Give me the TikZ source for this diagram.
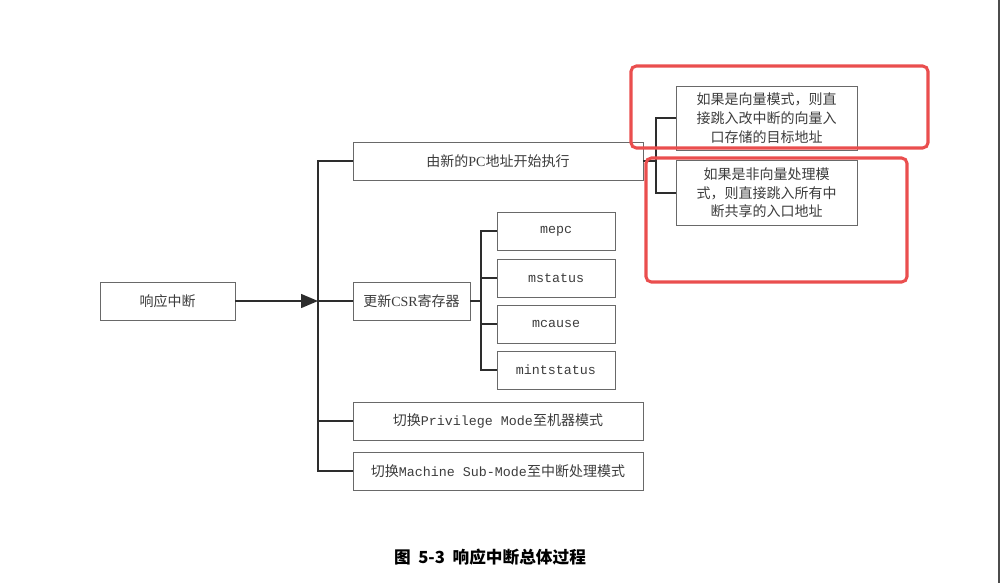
\documentclass[tikz,border=0pt]{standalone}
\usepackage{fontspec}
\setmainfont{Noto Sans CJK SC}
\setmonofont{Liberation Mono}
\newfontfamily\latinserif{Liberation Serif}
\usetikzlibrary{arrows.meta}
\definecolor{boxgray}{RGB}{105,105,105}
\definecolor{textgray}{RGB}{60,60,60}
\definecolor{linegray}{RGB}{45,45,45}
\definecolor{markred}{RGB}{234,78,78}

\begin{document}
\begin{tikzpicture}[x=0.75pt,y=-0.75pt,>=Stealth,
    stepbox/.style={draw=boxgray,line width=0.6pt,text=textgray,
      font=\fontsize{10.5}{14}\selectfont,minimum height=28.5pt,
      inner sep=0pt,align=center},
    regbox/.style={stepbox,minimum width=88.5pt,font=\ttfamily\fontsize{10}{14}\selectfont},
    link/.style={draw=linegray,line width=1.1pt},
    redframe/.style={draw=markred,line width=2.3pt,rounded corners=4pt}]
  \useasboundingbox (0,0) rectangle (1000,583);

  \node[stepbox,minimum width=101.25pt] (resp) at (167.5,301) {响应中断};
  \node[stepbox,minimum width=217.5pt] (pc) at (498,161) {由新的{\latinserif PC}地址开始执行};
  \node[stepbox,minimum width=87.75pt] (csr) at (411.5,301) {更新{\latinserif CSR}寄存器};
  \node[regbox] (mepc) at (556,231) {mepc};
  \node[regbox] (mstatus) at (556,278) {mstatus};
  \node[regbox] (mcause) at (556,324) {mcause};
  \node[regbox] (mint) at (556,370) {mintstatus};
  \node[stepbox,minimum width=217.5pt] (priv) at (498,421) {切换{\ttfamily\fontsize{10}{14}\selectfont Privilege Mode}至机器模式};
  \node[stepbox,minimum width=217.5pt] (mach) at (498,471) {切换{\ttfamily\fontsize{10}{14}\selectfont Machine Sub-Mode}至中断处理模式};
  \node[stepbox,minimum width=135.75pt,minimum height=48pt] (vec) at (766.5,118)
    {如果是向量模式，则直\\接跳入改中断的向量入\\口存储的目标地址};
  \node[stepbox,minimum width=135.75pt,minimum height=48.75pt] (nonvec) at (766.5,193)
    {如果是非向量处理模\\式，则直接跳入所有中\\断共享的入口地址};

  \coordinate (hub) at (318,301);
  \coordinate (csrhub) at (481,301);
  \coordinate (pchub) at (656,161);

  \draw[link,-{Triangle[length=12.75pt,width=10.5pt]}] (resp) -- (hub);
  \draw[link] (pc.west) -| (hub) |- (mach.west);
  \draw[link] (hub) -- (csr.west);
  \draw[link] (hub) |- (priv.west);
  \draw[link] (csr.east) -- (csrhub);
  \draw[link] (mepc.west) -| (csrhub) |- (mint.west);
  \draw[link] (csrhub |- mstatus.west) -- (mstatus.west);
  \draw[link] (csrhub |- mcause.west) -- (mcause.west);
  \draw[link] (pc.east) -- (pchub);
  \draw[link] (vec.west) -| (pchub) |- (nonvec.west);

  \draw[redframe] (631,66) rectangle (928,148);
  \draw[redframe] (646,158) rectangle (907,282);
  \draw[linegray!85,line width=1.5pt] (999.2,0) -- (999.2,583);

  \node[font=\bfseries\fontsize{12.5}{14}\selectfont] (caption) at (490,557) {图\ \ 5-3\ \ 响应中断总体过程};
\end{tikzpicture}
\end{document}
